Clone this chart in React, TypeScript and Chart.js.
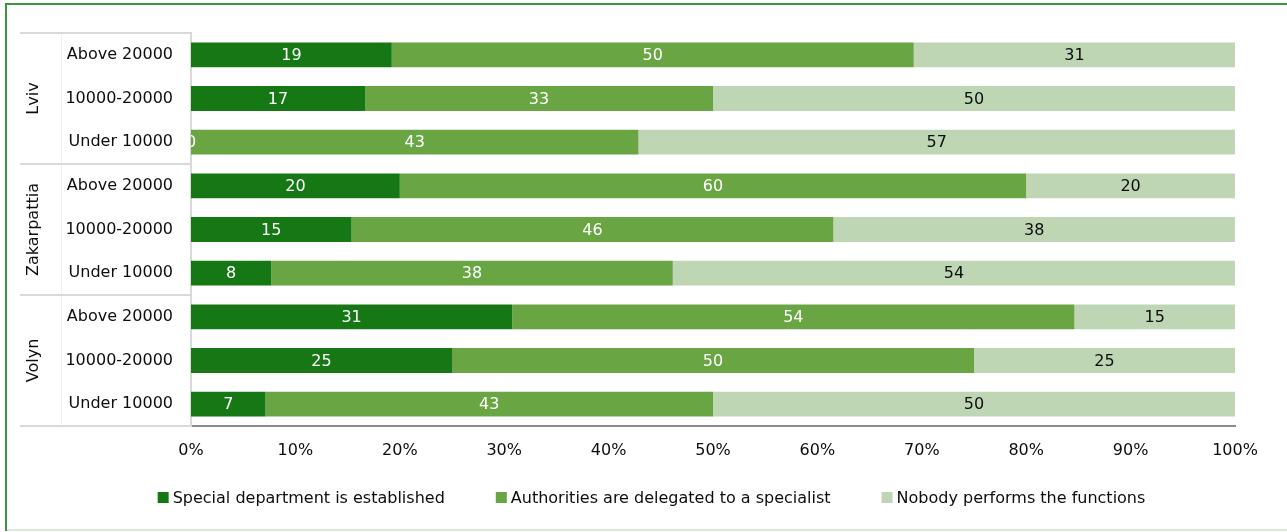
import React, { useEffect, useRef } from 'react';
import { Chart, registerables } from 'chart.js';

Chart.register(...registerables);

// ---- data ----
const categories = [
  'Above 20000', '10000-20000', 'Under 10000',
  'Above 20000', '10000-20000', 'Under 10000',
  'Above 20000', '10000-20000', 'Under 10000',
];
const regions = ['Lviv', 'Zakarpattia', 'Volyn'];
const regionSizes = [3, 3, 3];
const seriesNames = [
  'Special department is established',
  'Authorities are delegated to a specialist',
  'Nobody performs the functions',
];
const specialDept = [19.23, 16.67, 0, 20, 15.38, 7.69, 30.77, 25, 7.14];
const delegated = [50, 33.33, 42.86, 60, 46.15, 38.46, 53.85, 50, 42.86];
const nobody = [30.77, 50, 57.14, 20, 38.46, 53.85, 15.38, 25, 50];
const xMin = 0;
const xMax = 100;
const xStep = 10;

// ---- styles ----
const FONT = "'DejaVu Sans', Verdana, sans-serif";
const seriesColors = ['#157815', '#6aa544', '#bfd6b5'];
const labelColors = ['#ffffff', '#ffffff', '#0d0d0d'];

const barLabelsPlugin = {
  id: 'barLabels',
  afterDatasetsDraw(chart: any) {
    const { ctx, chartArea } = chart;
    ctx.save();
    ctx.beginPath();
    ctx.rect(chartArea.left, chartArea.top, chartArea.right - chartArea.left, chartArea.bottom - chartArea.top);
    ctx.clip();
    ctx.font = `16px ${FONT}`;
    ctx.textAlign = 'center';
    ctx.textBaseline = 'middle';
    chart.data.datasets.forEach((ds: any, di: number) => {
      const meta = chart.getDatasetMeta(di);
      ctx.fillStyle = labelColors[di];
      meta.data.forEach((el: any, i: number) => {
        const { x, base, y } = el.getProps(['x', 'base', 'y'], true);
        const v = ds.data[i];
        ctx.fillText(String(Math.round(v)), (x + base) / 2, y + 1);
      });
    });
    ctx.restore();
  },
};

const groupAxisPlugin = {
  id: 'groupAxis',
  beforeDraw(chart: any) {
    const { ctx, width, height } = chart;
    ctx.save();
    ctx.fillStyle = '#ffffff';
    ctx.fillRect(0, 0, width, height);
    ctx.fillStyle = '#dbe7d7';
    ctx.fillRect(5, 529, width - 5, 2);
    ctx.fillStyle = '#3c963c';
    ctx.fillRect(5, 3, width - 5, 2);
    ctx.fillRect(5, 3, 2, 528);
    ctx.restore();
  },
  afterDraw(chart: any) {
    const { ctx, chartArea, scales } = chart;
    const y = scales.y;
    const band = y.getPixelForValue(1) - y.getPixelForValue(0);
    const left = 20;
    const right = chartArea.left - 1;
    ctx.save();
    ctx.strokeStyle = '#efefef';
    ctx.lineWidth = 1;
    ctx.beginPath();
    ctx.moveTo(61.5, chartArea.top);
    ctx.lineTo(61.5, chartArea.bottom);
    ctx.stroke();
    ctx.strokeStyle = '#d9d9d9';
    ctx.lineWidth = 2;
    let start = 0;
    const bounds: number[] = [y.getPixelForValue(0) - band / 2];
    regionSizes.forEach((n) => {
      const end = start + n;
      bounds.push(y.getPixelForValue(end - 1) + band / 2);
      start = end;
    });
    bounds.forEach((b) => {
      ctx.beginPath();
      ctx.moveTo(left, b);
      ctx.lineTo(right, b);
      ctx.stroke();
    });
    ctx.fillStyle = '#0d0d0d';
    ctx.font = `16px ${FONT}`;
    ctx.textAlign = 'center';
    ctx.textBaseline = 'middle';
    regions.forEach((r, i) => {
      const cy = (bounds[i] + bounds[i + 1]) / 2;
      ctx.save();
      ctx.translate(34, cy);
      ctx.rotate(-Math.PI / 2);
      ctx.fillText(r, 0, 0);
      ctx.restore();
    });
    // legend
    const boxSize = 11;
    const textGap = 4;
    const itemGap = 51;
    const widths = chart.data.datasets.map((ds: any) => ctx.measureText(ds.label).width);
    const total = widths.reduce((a: number, w: number) => a + boxSize + textGap + w, 0) + itemGap * (widths.length - 1);
    let lx = 651.5 - total / 2;
    const ly = 497.5;
    ctx.textAlign = 'left';
    chart.data.datasets.forEach((ds: any, i: number) => {
      ctx.fillStyle = ds.backgroundColor;
      ctx.fillRect(lx, ly - 5.5, boxSize, boxSize);
      ctx.fillStyle = '#0d0d0d';
      ctx.fillText(ds.label, lx + boxSize + textGap, ly + 1);
      lx += boxSize + textGap + widths[i] + itemGap;
    });
    ctx.restore();
  },
};

export default function App() {
  const canvasRef = useRef<HTMLCanvasElement | null>(null);

  useEffect(() => {
    if (!canvasRef.current) return;
    const seriesData = [specialDept, delegated, nobody];
    const chart = new Chart(canvasRef.current, {
      type: 'bar',
      data: {
        labels: categories,
        datasets: seriesNames.map((name, i) => ({
          label: name,
          data: seriesData[i],
          backgroundColor: seriesColors[i],
          borderWidth: 0,
          categoryPercentage: 1,
          barPercentage: 0.57,
        })),
      },
      options: {
        indexAxis: 'y',
        responsive: false,
        animation: false,
        devicePixelRatio: 1,
        layout: { padding: { top: 33, right: 52, left: 0, bottom: 0 } },
        plugins: {
          legend: { display: false },
          tooltip: { enabled: false },
          title: { display: false },
        },
        scales: {
          x: {
            type: 'linear',
            stacked: true,
            min: xMin,
            max: xMax,
            grid: { display: false, drawTicks: false },
            border: { display: true, color: '#8c8c8c', width: 2 },
            ticks: {
              stepSize: xStep,
              color: '#0d0d0d',
              font: { family: FONT, size: 16 },
              padding: 15,
              callback: (v: any) => `${v}%`,
            },
            afterFit: (s: any) => { s.height = 106; },
          },
          y: {
            type: 'category',
            stacked: true,
            grid: { display: false, drawTicks: false },
            border: { display: true, color: '#d9d9d9', width: 2 },
            ticks: {
              autoSkip: false,
              color: '#0d0d0d',
              font: { family: FONT, size: 16 },
              padding: 18,
            },
            afterFit: (s: any) => { s.width = 191; },
          },
        },
      },
      plugins: [groupAxisPlugin, barLabelsPlugin],
    });
    return () => chart.destroy();
  }, []);

  return (
    <div style={{ position: 'absolute', left: 0, top: 0, width: 1287, height: 532, background: '#fff' }}>
      <canvas ref={canvasRef} width={1287} height={532} style={{ display: 'block' }} />
    </div>
  );
}
